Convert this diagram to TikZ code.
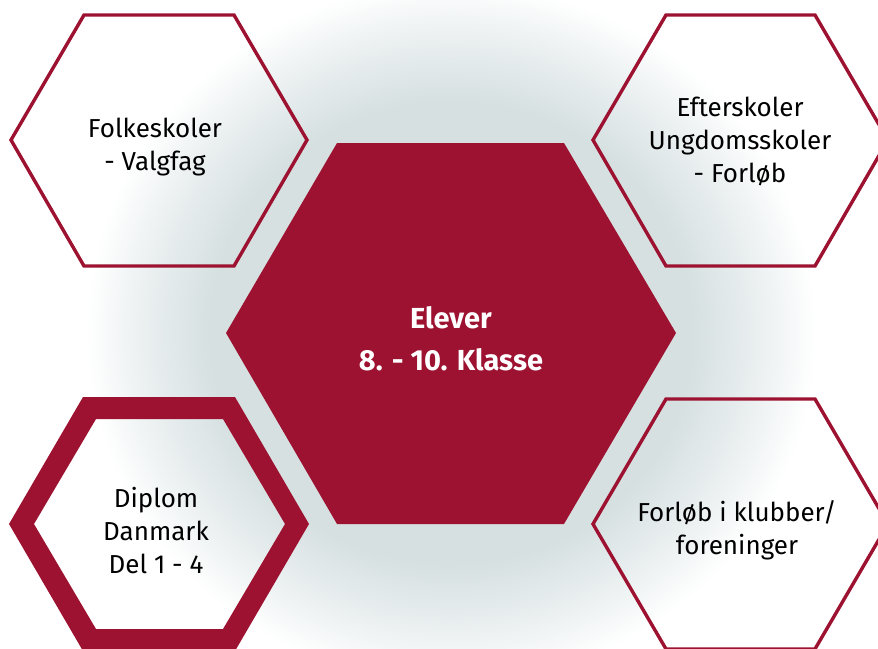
\documentclass[tikz,border=0pt]{standalone}
\usepackage{fontspec}
\setmainfont{Fira Sans}
\definecolor{hexred}{HTML}{9C1230}
\definecolor{glowc}{HTML}{D6E0E1}
\definecolor{glowm}{HTML}{EAEFF0}
\pgfdeclareradialshading{glow}{\pgfpoint{0bp}{0bp}}{color(0bp)=(glowc); color(16.5bp)=(glowc); color(21bp)=(glowm); color(25bp)=(white); color(50bp)=(white)}
\begin{document}
\begin{tikzpicture}[x=1pt,y=-1pt,
  lbl/.style={align=center, font=\fontsize{26}{33}\selectfont, text=black, inner sep=0pt},
  mainlbl/.style={align=center, font=\fontsize{29}{42}\selectfont\bfseries, text=white, inner sep=0pt},
  hexline/.style={draw=hexred, line width=3.4pt, line join=miter}]
\useasboundingbox (0,0) rectangle (878,648);
\clip (0,0) rectangle (878,648);
\fill[white] (0,0) rectangle (878,648);
\shade[shading=glow] (451,333) ellipse [x radius=365pt, y radius=350pt];
% central hexagon
\fill[hexred] (226,333) -- (337,143) -- (564,143) -- (676,333) -- (564,524) -- (337,524) -- cycle;
% top-left
\draw[hexline] (11,140) -- (84,15) -- (234,15) -- (307,140) -- (234,266) -- (84,266) -- cycle;
% top-right
\draw[hexline] (593,140) -- (666,15) -- (815,15) -- (888,140) -- (815,266) -- (666,266) -- cycle;
% bottom-right
\draw[hexline] (593,524) -- (666,399) -- (815,399) -- (888,524) -- (815,649) -- (666,649) -- cycle;
% bottom-left thick
\fill[hexred, even odd rule]
  (9,524) -- (83,397) -- (235,397) -- (309,524) -- (235,651) -- (83,651) -- cycle
  (34,524) -- (96,419) -- (223,419) -- (285,524) -- (223,629) -- (96,629) -- cycle;
% texts
\node[mainlbl] (center) at (451,339) {Elever\\8. - 10. Klasse};
\node[lbl] (folk) at (155,147) {Folkeskoler\\- Valgfag};
\node[lbl] (efter) at (740,141) {Efterskoler\\Ungdomsskoler\\- Forløb};
\node[lbl] (diplom) at (156,531) {Diplom\\Danmark\\Del 1 - 4};
\node[lbl] (klub) at (737,530) {Forløb i klubber/\\foreninger};
\end{tikzpicture}
\end{document}
